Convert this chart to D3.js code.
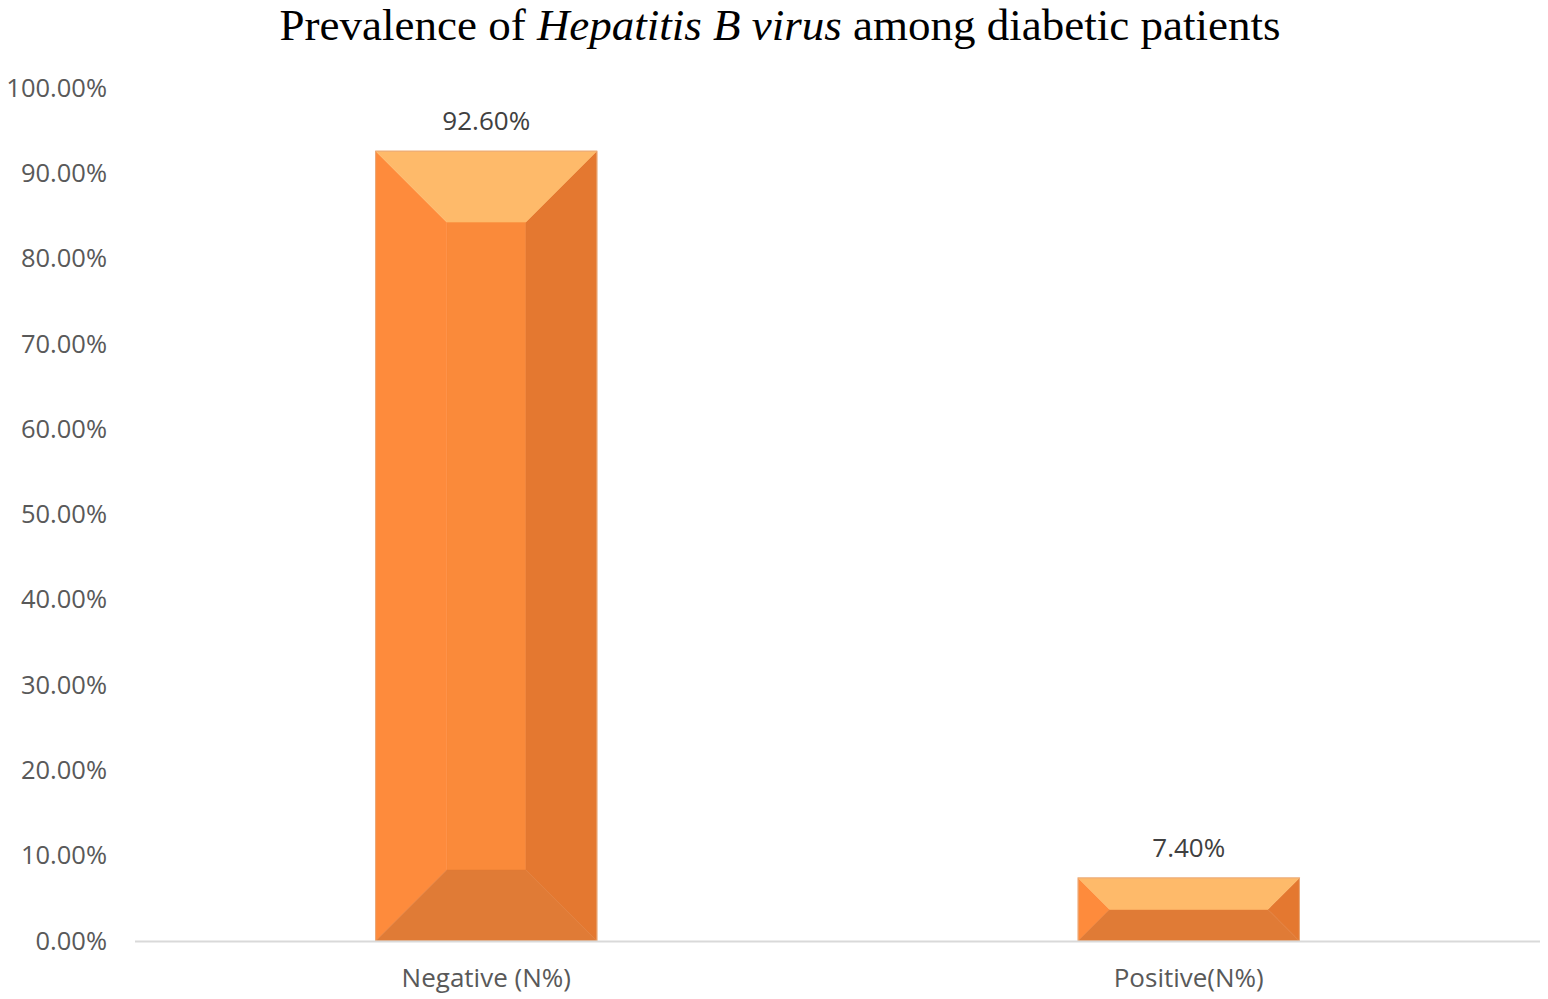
<!DOCTYPE html>
<html>
<head>
<meta charset="utf-8">
<script src="https://cdn.jsdelivr.net/npm/d3@7"></script>
<style>
  body { margin: 0; background: #fff; }
  text { font-family: "Open Sans", sans-serif; }
</style>
</head>
<body>
<div id="chart"></div>
<script>
var categories = ["Negative (N%)", "Positive(N%)"],
    values = [92.6, 7.4],
    valueLabels = ["92.60%", "7.40%"],
    ticks = [0, 10, 20, 30, 40, 50, 60, 70, 80, 90, 100];

var width = 1548,
    height = 999,
    margin = {top: 88, right: 8, bottom: 58, left: 135};

var x = d3.scaleBand().domain(categories)
    .range([margin.left, width - margin.right])
    .paddingInner(0.685).paddingOuter(0.3425),
    y = d3.scaleLinear().domain([0, 100]).range([height - margin.bottom, margin.top]);

var svg = d3.select("#chart").append("svg")
    .attr("width", width)
    .attr("height", height);

// title with italic virus name
var title = svg.append("text")
    .attr("x", 780)
    .attr("y", 40)
    .attr("text-anchor", "middle")
    .style("font-family", "'Liberation Serif', 'Times New Roman', serif")
    .style("font-size", "45px")
    .style("fill", "#000");
title.append("tspan").text("Prevalence of ");
title.append("tspan").style("font-style", "italic").text("Hepatitis B virus");
title.append("tspan").text(" among diabetic patients");

// y axis labels (no axis line)
var yAxis = d3.axisLeft(y)
    .tickValues(ticks)
    .tickSize(0)
    .tickPadding(0)
    .tickFormat(function (d) { return d3.format(".2f")(d) + "%"; });

var gy = svg.append("g")
    .attr("transform", "translate(107,0)")
    .call(yAxis);
gy.select(".domain").remove();
gy.selectAll("text")
    .style("font-family", "'Open Sans', sans-serif")
    .style("font-size", "25.5px")
    .style("fill", "#595959");

// bevelled bars
var bars = svg.selectAll(".bar")
    .data(categories)
    .enter().append("g")
    .attr("class", "bar");

bars.each(function (c, i) {
    var g = d3.select(this),
        x0 = x(c),
        x1 = x(c) + x.bandwidth(),
        y0 = y(0),
        y1 = y(values[i]),
        b = Math.min(71, (y0 - y1) / 2, x.bandwidth() / 2);

    var faces = [
        {fill: "#FA8A3A", pts: [[x0 + b, y1 + b], [x1 - b, y1 + b], [x1 - b, y0 - b], [x0 + b, y0 - b]]},
        {fill: "#FE8B3C", pts: [[x0, y1], [x0 + b, y1 + b], [x0 + b, y0 - b], [x0, y0]]},
        {fill: "#E47830", pts: [[x1, y1], [x1, y0], [x1 - b, y0 - b], [x1 - b, y1 + b]]},
        {fill: "#E07B36", pts: [[x0, y0], [x0 + b, y0 - b], [x1 - b, y0 - b], [x1, y0]]},
        {fill: "#FEBA6A", pts: [[x0, y1], [x1, y1], [x1 - b, y1 + b], [x0 + b, y1 + b]]}
    ];

    g.selectAll("polygon")
        .data(faces)
        .enter().append("polygon")
        .attr("points", function (d) { return d.pts.map(function (p) { return p.join(","); }).join(" "); })
        .style("fill", function (d) { return d.fill; })
        .style("stroke", function (d) { return d.fill; })
        .style("stroke-width", 0.5);

    g.append("rect")
        .attr("x", x0)
        .attr("y", y1)
        .attr("width", x1 - x0)
        .attr("height", y0 - y1)
        .style("fill", "none")
        .style("stroke", "#E9A877")
        .style("stroke-width", 1);

    g.append("text")
        .attr("x", x0 + x.bandwidth() / 2)
        .attr("y", y1 - 21)
        .attr("text-anchor", "middle")
        .style("font-size", "26px")
        .style("fill", "#404040")
        .text(valueLabels[i]);
});

// baseline
svg.append("line")
    .attr("x1", margin.left)
    .attr("x2", width - margin.right)
    .attr("y1", y(0) + 0.5)
    .attr("y2", y(0) + 0.5)
    .style("stroke", "#D9D9D9")
    .style("stroke-width", 2);

// category labels
var xAxis = d3.axisBottom(x).tickSize(0).tickPadding(0);
var gx = svg.append("g")
    .attr("transform", "translate(0," + (y(0) + 28) + ")")
    .call(xAxis);
gx.select(".domain").remove();
gx.selectAll("text")
    .style("font-family", "'Open Sans', sans-serif")
    .style("font-size", "26px")
    .style("fill", "#595959");
</script>
</body>
</html>
